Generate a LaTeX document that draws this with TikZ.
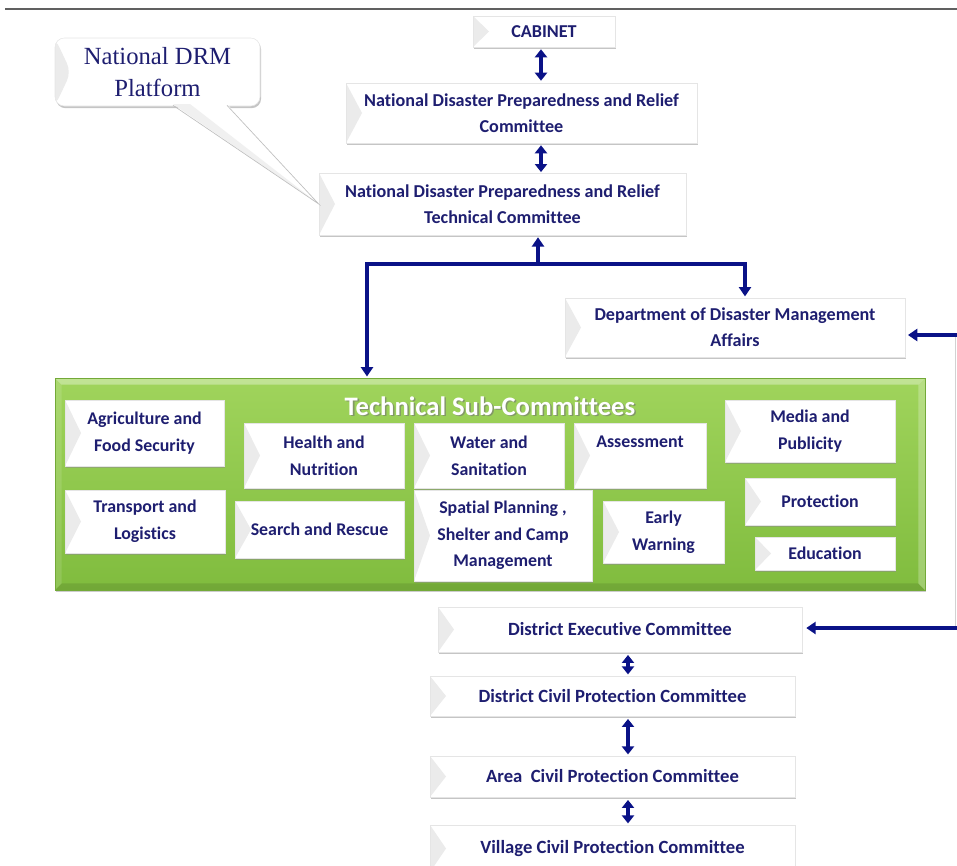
\documentclass[tikz,border=0pt]{standalone}
\usepackage{fontspec}
\setmainfont[Ligatures={NoCommon}]{Carlito}
\newfontfamily\serifdrm{Liberation Serif}
\usetikzlibrary{arrows.meta,shadows}
\definecolor{navytext}{RGB}{30,30,112}
\definecolor{navyline}{RGB}{10,18,135}
\definecolor{greentop}{RGB}{160,212,92}
\definecolor{greenbot}{RGB}{128,188,62}
\newcommand{\pbox}[7][]{%
  \node[ubox,#1,minimum width={(#5-#3)*0.75pt},minimum height={(#6-#4)*0.75pt}] (#2) at ({(#3+#5)/2},{(#4+#6)/2}) {#7};}
\tikzset{
  ubox/.style={rectangle, fill=white, draw=gray!20, line width=0.4pt, inner sep=0pt, align=center,
    font=\bfseries\fontsize{13.6}{19.5}\selectfont, text=navytext,
    drop shadow={shadow xshift=0.8pt, shadow yshift=-1.6pt, fill=black!45, opacity=0.5},
    path picture={\fill[gray!16] (path picture bounding box.north west) -- ([xshift=12pt]path picture bounding box.west) -- (path picture bounding box.south west) -- cycle;}},
  subbox/.style={font=\bfseries\fontsize{13.4}{20}\selectfont},
  conn/.style={draw=navyline, line width=2.3pt},
  arrowend/.style={-{Triangle[width=9pt,length=7pt]}},
  dblarrow/.style={{Triangle[width=9pt,length=6pt]}-{Triangle[width=9pt,length=6pt]}},
  greenbox/.style={rectangle, inner sep=0pt, top color=greentop, bottom color=greenbot, draw=greenbot!90!black, line width=0.3pt,
    drop shadow={shadow xshift=1pt, shadow yshift=-1.5pt, fill=black!40, opacity=0.5},
    path picture={
      \fill[white,opacity=0.35] (path picture bounding box.north west) -- (path picture bounding box.north east) -- ([shift={(-5pt,-5pt)}]path picture bounding box.north east) -- ([shift={(5pt,-5pt)}]path picture bounding box.north west) -- cycle;
      \fill[white,opacity=0.12] (path picture bounding box.north west) -- ([shift={(5pt,-5pt)}]path picture bounding box.north west) -- ([shift={(5pt,5pt)}]path picture bounding box.south west) -- (path picture bounding box.south west) -- cycle;
      \fill[black,opacity=0.1] (path picture bounding box.south west) -- (path picture bounding box.south east) -- ([shift={(-5pt,5pt)}]path picture bounding box.south east) -- ([shift={(5pt,5pt)}]path picture bounding box.south west) -- cycle;
      \fill[white,opacity=0.25] (path picture bounding box.north east) -- ([shift={(-5pt,-5pt)}]path picture bounding box.north east) -- ([shift={(-5pt,5pt)}]path picture bounding box.south east) -- (path picture bounding box.south east) -- cycle;
    }},
}
\begin{document}
\begin{tikzpicture}[x=0.75pt,y=-0.75pt]
\useasboundingbox (0,0) rectangle (957,865);
% top rule
\coordinate (rl) at (5,9);
\coordinate (rr) at (957,9);
\draw[gray!75!black, line width=1.1pt] (rl) -- (rr);

% national level
\pbox{cab}{473}{16}{615}{47}{CABINET}
\pbox{ndprc}{346}{83}{697}{143}{National Disaster Preparedness and Relief\\Committee}
\pbox{tc}{319}{173}{686}{235}{National Disaster Preparedness and Relief\\Technical Committee}
\pbox{ddma}{565}{298}{905}{357}{Department of Disaster Management\\Affairs}

% callout
\pbox[rounded corners=7pt, font=\serifdrm\fontsize{18.5}{24.5}\selectfont, text=navytext]{drm}{55}{38}{260}{106}{National DRM\\Platform}
\coordinate (pb1) at (173,104);
\coordinate (pb2) at (227,104);
\fill[white] (pb1) -- (tc.west) -- (pb2) -- cycle;
\fill[gray!12] (pb1) -- (tc.west) -- (190,104) -- cycle;
\draw[gray!50, line width=0.5pt] ([yshift=-1pt]pb1) -- (tc.west) -- ([yshift=-1pt]pb2);

% green technical sub-committees box
\node[greenbox, minimum width={870*0.75pt}, minimum height={212*0.75pt}] (tsc) at (490,484) {};
\node[font=\bfseries\fontsize{20}{24}\selectfont, text=black!55, opacity=0.6] (tsctitles) at (491.5,407.5) {Technical Sub-Committees};
\node[font=\bfseries\fontsize{20}{24}\selectfont, text=white] (tsctitle) at (490,406) {Technical Sub-Committees};

\pbox[subbox]{agri}{65}{400}{224}{466}{Agriculture and\\Food Security}
\pbox[subbox]{health}{244}{423}{404}{488}{Health and\\Nutrition}
\pbox[subbox]{water}{414}{423}{564}{488}{Water and\\Sanitation}
\pbox[subbox]{assess}{574}{423}{706}{488}{Assessment\\\mbox{}}
\pbox[subbox]{media}{725}{400}{895}{462}{Media and\\Publicity}
\pbox[subbox]{transport}{65}{490}{225}{553}{Transport and\\Logistics}
\pbox[subbox]{search}{235}{501}{404}{558}{Search and Rescue}
\pbox[subbox]{spatial}{414}{490}{592}{581}{Spatial Planning ,\\Shelter and Camp\\Management}
\pbox[subbox]{early}{603}{501}{724}{563}{Early\\Warning}
\pbox[subbox]{protect}{745}{478}{895}{525}{Protection}
\pbox[subbox]{edu}{755}{537}{895}{570}{Education}

% district level
\pbox[font=\bfseries\fontsize{14}{19}\selectfont]{dec}{438}{607}{802}{652}{District Executive Committee}
\pbox[font=\bfseries\fontsize{14}{19}\selectfont]{dcpc}{430}{676}{795}{716}{District Civil Protection Committee}
\pbox[font=\bfseries\fontsize{14}{19}\selectfont]{acpc}{430}{756}{795}{797}{Area\ \ Civil Protection Committee}
\pbox[font=\bfseries\fontsize{14}{19}\selectfont]{vcpc}{430}{825}{795}{872}{Village Civil Protection Committee}

% connectors: national
\coordinate (ax1) at (541,0);
\draw[conn,dblarrow] ([yshift=-1.5pt]cab.south -| ax1) -- ([yshift=1.5pt]ndprc.north -| ax1);
\draw[conn,dblarrow] ([yshift=-1.5pt]ndprc.south -| ax1) -- ([yshift=0.5pt]tc.north -| ax1);

\coordinate (j) at (538,264);
\coordinate (jl) at (367,264);
\coordinate (jr) at (745,264);
\draw[conn,arrowend] (j) -- ([yshift=-1.5pt]tc.south -| j);
\draw[conn,line cap=rect] (jl) -- (jr);
\draw[conn,arrowend] (jl) -- ([yshift=1pt]tsc.north -| jl);
\draw[conn,arrowend] (jr) -- ([yshift=1pt]ddma.north -| jr);

% right side feed
\coordinate (r1) at (955.5,335);
\coordinate (r2) at (955.5,628);
\draw[gray!35, line width=0.6pt] (r1) -- (r2);
\draw[conn,arrowend] (957.5,335) -- ([xshift=2pt]ddma.east |- r1);
\draw[conn,arrowend] (957.5,628) -- ([xshift=3pt]dec.east |- r2);

% connectors: district
\coordinate (ax2) at (628,0);
\draw[conn,dblarrow] ([yshift=-2pt]dec.south -| ax2) -- ([yshift=1pt]dcpc.north -| ax2);
\draw[conn,dblarrow] ([yshift=-2pt]dcpc.south -| ax2) -- ([yshift=1pt]acpc.north -| ax2);
\draw[conn,dblarrow] ([yshift=-2pt]acpc.south -| ax2) -- ([yshift=1pt]vcpc.north -| ax2);
\end{tikzpicture}
\end{document}
